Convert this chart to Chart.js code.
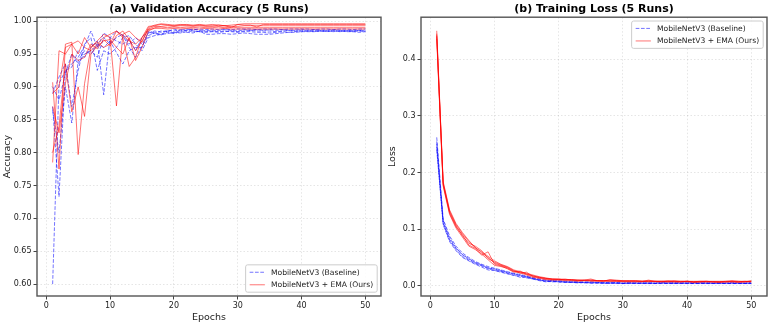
<!DOCTYPE html>
<html>
<head>
<meta charset="utf-8">
<script src="https://cdn.jsdelivr.net/npm/chart.js@4.4.1/dist/chart.umd.min.js"></script>
<style>
  html, body { margin: 0; padding: 0; background: #fff; }
  #wrap { position: relative; width: 770px; height: 325px; }
  .panel { position: absolute; top: 0; width: 385px; height: 325px; }
</style>
</head>
<body>
<div id="wrap">
  <div class="panel" style="left:0"><canvas id="acc"></canvas></div>
  <div class="panel" style="left:385px"><canvas id="loss"></canvas></div>
</div>
<script>
"use strict";

const epochs = [1, 2, 3, 4, 5, 6, 7, 8, 9, 10, 11, 12, 13, 14, 15, 16, 17, 18, 19, 20,
  21, 22, 23, 24, 25, 26, 27, 28, 29, 30, 31, 32, 33, 34, 35, 36, 37, 38, 39, 40,
  41, 42, 43, 44, 45, 46, 47, 48, 49, 50];

const epochTicks = [0, 10, 20, 30, 40, 50],
  accTicks = [0.60, 0.65, 0.70, 0.75, 0.80, 0.85, 0.90, 0.95, 1.00],
  lossTicks = [0.0, 0.1, 0.2, 0.3, 0.4];

// validation accuracy, baseline runs
const accBase1 = [0.600, 0.905, 0.925, 0.935, 0.945, 0.962, 0.985, 0.960, 0.982, 0.975,
  0.970, 0.965, 0.972, 0.955, 0.975, 0.985, 0.982, 0.980, 0.985, 0.982,
  0.986, 0.988, 0.985, 0.984, 0.986, 0.985, 0.986, 0.987, 0.986, 0.985,
  0.987, 0.986, 0.987, 0.986, 0.987, 0.986, 0.987, 0.986, 0.986, 0.987,
  0.986, 0.987, 0.986, 0.986, 0.987, 0.986, 0.985, 0.986, 0.986, 0.986];
const accBase2 = [0.870, 0.733, 0.925, 0.930, 0.955, 0.945, 0.960, 0.970, 0.888, 0.975,
  0.985, 0.978, 0.960, 0.945, 0.962, 0.978, 0.982, 0.985, 0.984, 0.988,
  0.985, 0.986, 0.988, 0.986, 0.984, 0.985, 0.984, 0.985, 0.984, 0.983,
  0.984, 0.984, 0.983, 0.983, 0.982, 0.983, 0.984, 0.983, 0.984, 0.984,
  0.985, 0.984, 0.985, 0.985, 0.984, 0.985, 0.984, 0.984, 0.983, 0.984];
const accBase3 = [0.865, 0.800, 0.900, 0.845, 0.940, 0.955, 0.950, 0.965, 0.960, 0.970,
  0.952, 0.935, 0.955, 0.960, 0.960, 0.983, 0.981, 0.979, 0.983, 0.981,
  0.984, 0.983, 0.982, 0.985, 0.980, 0.980, 0.981, 0.981, 0.980, 0.981,
  0.982, 0.981, 0.980, 0.980, 0.980, 0.981, 0.982, 0.983, 0.983, 0.984,
  0.984, 0.984, 0.985, 0.984, 0.985, 0.984, 0.985, 0.984, 0.985, 0.984];
const accBase4 = [0.890, 0.915, 0.935, 0.870, 0.925, 0.965, 0.975, 0.925, 0.955, 0.950,
  0.960, 0.975, 0.978, 0.965, 0.955, 0.975, 0.978, 0.980, 0.981, 0.983,
  0.982, 0.984, 0.985, 0.984, 0.983, 0.984, 0.983, 0.984, 0.985, 0.984,
  0.985, 0.986, 0.985, 0.985, 0.985, 0.984, 0.985, 0.986, 0.985, 0.986,
  0.985, 0.986, 0.985, 0.985, 0.986, 0.985, 0.986, 0.985, 0.986, 0.985];
const accBase5 = [0.900, 0.880, 0.920, 0.950, 0.935, 0.950, 0.955, 0.945, 0.975, 0.965,
  0.975, 0.980, 0.965, 0.975, 0.965, 0.982, 0.985, 0.983, 0.986, 0.985,
  0.987, 0.986, 0.987, 0.988, 0.987, 0.988, 0.987, 0.988, 0.987, 0.988,
  0.988, 0.988, 0.987, 0.988, 0.988, 0.988, 0.987, 0.988, 0.988, 0.988,
  0.988, 0.987, 0.988, 0.988, 0.987, 0.988, 0.988, 0.987, 0.988, 0.988];

// validation accuracy, EMA runs
const accEma1 = [0.785, 0.955, 0.950, 0.965, 0.970, 0.960, 0.955, 0.965, 0.975, 0.980,
  0.985, 0.978, 0.970, 0.965, 0.975, 0.992, 0.993, 0.995, 0.994, 0.993,
  0.994, 0.995, 0.994, 0.995, 0.994, 0.995, 0.994, 0.993, 0.994, 0.995,
  0.996, 0.996, 0.996, 0.996, 0.996, 0.996, 0.996, 0.996, 0.996, 0.996,
  0.996, 0.996, 0.996, 0.996, 0.996, 0.996, 0.996, 0.996, 0.996, 0.996];
const accEma2 = [0.907, 0.775, 0.965, 0.968, 0.797, 0.905, 0.960, 0.970, 0.980, 0.975,
  0.871, 0.980, 0.985, 0.975, 0.968, 0.990, 0.994, 0.996, 0.995, 0.994,
  0.995, 0.994, 0.993, 0.994, 0.993, 0.992, 0.994, 0.993, 0.990, 0.995,
  0.994, 0.994, 0.991, 0.995, 0.995, 0.995, 0.995, 0.995, 0.995, 0.995,
  0.995, 0.995, 0.995, 0.995, 0.995, 0.995, 0.995, 0.995, 0.995, 0.995];
const accEma3 = [0.800, 0.840, 0.935, 0.862, 0.900, 0.855, 0.950, 0.962, 0.970, 0.972,
  0.960, 0.950, 0.975, 0.940, 0.960, 0.985, 0.990, 0.992, 0.993, 0.992,
  0.993, 0.993, 0.992, 0.993, 0.992, 0.993, 0.992, 0.993, 0.992, 0.992,
  0.993, 0.993, 0.993, 0.993, 0.993, 0.993, 0.993, 0.993, 0.993, 0.993,
  0.993, 0.993, 0.993, 0.993, 0.993, 0.993, 0.993, 0.993, 0.993, 0.993];
const accEma4 = [0.890, 0.900, 0.960, 0.965, 0.950, 0.975, 0.960, 0.968, 0.960, 0.965,
  0.985, 0.975, 0.931, 0.945, 0.975, 0.988, 0.992, 0.991, 0.990, 0.991,
  0.990, 0.991, 0.990, 0.991, 0.990, 0.990, 0.991, 0.990, 0.991, 0.990,
  0.990, 0.990, 0.990, 0.990, 0.990, 0.990, 0.990, 0.990, 0.990, 0.990,
  0.990, 0.990, 0.990, 0.990, 0.990, 0.990, 0.990, 0.990, 0.990, 0.990];
const accEma5 = [0.870, 0.830, 0.905, 0.950, 0.940, 0.945, 0.965, 0.958, 0.972, 0.962,
  0.978, 0.985, 0.972, 0.955, 0.970, 0.987, 0.989, 0.989, 0.988, 0.989,
  0.988, 0.989, 0.988, 0.988, 0.989, 0.988, 0.988, 0.989, 0.988, 0.988,
  0.988, 0.988, 0.988, 0.988, 0.988, 0.988, 0.988, 0.988, 0.988, 0.988,
  0.988, 0.988, 0.988, 0.988, 0.988, 0.988, 0.988, 0.988, 0.988, 0.988];

// training loss, baseline runs
const lossBase1 = [0.262, 0.118, 0.088, 0.070, 0.058, 0.050, 0.043, 0.038, 0.034, 0.031,
  0.028, 0.025, 0.022, 0.020, 0.017, 0.014, 0.012, 0.010, 0.009, 0.009,
  0.008, 0.008, 0.007, 0.007, 0.007, 0.006, 0.006, 0.006, 0.006, 0.005,
  0.006, 0.005, 0.005, 0.006, 0.005, 0.005, 0.005, 0.006, 0.005, 0.005,
  0.005, 0.005, 0.006, 0.005, 0.005, 0.005, 0.005, 0.005, 0.005, 0.006];
const lossBase2 = [0.250, 0.112, 0.082, 0.066, 0.055, 0.047, 0.041, 0.036, 0.032, 0.029,
  0.026, 0.023, 0.021, 0.018, 0.016, 0.013, 0.011, 0.008, 0.008, 0.007,
  0.007, 0.006, 0.006, 0.006, 0.005, 0.005, 0.005, 0.005, 0.005, 0.004,
  0.005, 0.004, 0.005, 0.004, 0.004, 0.005, 0.004, 0.004, 0.004, 0.005,
  0.004, 0.004, 0.004, 0.004, 0.005, 0.004, 0.004, 0.004, 0.004, 0.004];
const lossBase3 = [0.245, 0.108, 0.078, 0.062, 0.050, 0.044, 0.038, 0.033, 0.028, 0.027,
  0.024, 0.021, 0.019, 0.015, 0.015, 0.012, 0.009, 0.007, 0.008, 0.007,
  0.006, 0.006, 0.005, 0.006, 0.005, 0.005, 0.005, 0.004, 0.005, 0.004,
  0.004, 0.005, 0.004, 0.004, 0.004, 0.004, 0.004, 0.004, 0.005, 0.004,
  0.004, 0.004, 0.004, 0.004, 0.004, 0.004, 0.004, 0.004, 0.004, 0.004];
const lossBase4 = [0.255, 0.115, 0.085, 0.067, 0.055, 0.048, 0.041, 0.037, 0.031, 0.030,
  0.027, 0.024, 0.021, 0.019, 0.016, 0.013, 0.010, 0.009, 0.009, 0.008,
  0.007, 0.007, 0.006, 0.006, 0.006, 0.006, 0.005, 0.005, 0.005, 0.005,
  0.005, 0.005, 0.005, 0.005, 0.005, 0.006, 0.005, 0.005, 0.005, 0.005,
  0.006, 0.005, 0.005, 0.005, 0.005, 0.005, 0.006, 0.005, 0.005, 0.005];
const lossBase5 = [0.240, 0.110, 0.080, 0.064, 0.052, 0.045, 0.039, 0.035, 0.030, 0.027,
  0.025, 0.022, 0.018, 0.017, 0.014, 0.012, 0.010, 0.008, 0.007, 0.007,
  0.006, 0.006, 0.006, 0.005, 0.005, 0.005, 0.004, 0.005, 0.004, 0.004,
  0.004, 0.004, 0.004, 0.004, 0.004, 0.004, 0.005, 0.004, 0.004, 0.004,
  0.004, 0.005, 0.004, 0.004, 0.004, 0.004, 0.004, 0.004, 0.004, 0.004];

// training loss, EMA runs
const lossEma1 = [0.450, 0.182, 0.132, 0.108, 0.092, 0.078, 0.068, 0.058, 0.050, 0.040,
  0.036, 0.032, 0.026, 0.024, 0.021, 0.017, 0.015, 0.013, 0.012, 0.011,
  0.011, 0.010, 0.010, 0.010, 0.009, 0.009, 0.009, 0.009, 0.008, 0.008,
  0.008, 0.008, 0.008, 0.008, 0.008, 0.007, 0.008, 0.007, 0.007, 0.008,
  0.007, 0.007, 0.007, 0.007, 0.007, 0.007, 0.007, 0.007, 0.007, 0.008];
const lossEma2 = [0.436, 0.178, 0.128, 0.104, 0.090, 0.072, 0.066, 0.054, 0.060, 0.038,
  0.035, 0.030, 0.024, 0.026, 0.020, 0.018, 0.014, 0.012, 0.011, 0.012,
  0.010, 0.011, 0.009, 0.010, 0.012, 0.009, 0.008, 0.011, 0.010, 0.009,
  0.008, 0.009, 0.008, 0.010, 0.008, 0.008, 0.009, 0.008, 0.008, 0.008,
  0.007, 0.008, 0.008, 0.007, 0.007, 0.008, 0.009, 0.008, 0.007, 0.009];
const lossEma3 = [0.445, 0.180, 0.130, 0.106, 0.088, 0.075, 0.070, 0.062, 0.048, 0.042,
  0.037, 0.033, 0.027, 0.022, 0.024, 0.016, 0.015, 0.013, 0.012, 0.011,
  0.012, 0.010, 0.010, 0.009, 0.010, 0.009, 0.009, 0.008, 0.009, 0.008,
  0.009, 0.008, 0.008, 0.007, 0.008, 0.008, 0.007, 0.008, 0.007, 0.008,
  0.007, 0.007, 0.008, 0.007, 0.007, 0.007, 0.008, 0.007, 0.008, 0.007];
const lossEma4 = [0.440, 0.176, 0.126, 0.102, 0.086, 0.070, 0.064, 0.056, 0.046, 0.036,
  0.034, 0.031, 0.025, 0.023, 0.019, 0.015, 0.013, 0.011, 0.010, 0.010,
  0.009, 0.009, 0.008, 0.009, 0.008, 0.008, 0.008, 0.008, 0.008, 0.007,
  0.007, 0.007, 0.007, 0.008, 0.007, 0.007, 0.007, 0.007, 0.007, 0.007,
  0.006, 0.007, 0.007, 0.007, 0.006, 0.007, 0.007, 0.006, 0.007, 0.007];
const lossEma5 = [0.442, 0.184, 0.134, 0.110, 0.094, 0.080, 0.067, 0.060, 0.052, 0.044,
  0.038, 0.034, 0.028, 0.025, 0.022, 0.019, 0.016, 0.014, 0.012, 0.012,
  0.011, 0.011, 0.010, 0.010, 0.010, 0.009, 0.009, 0.010, 0.009, 0.009,
  0.009, 0.009, 0.008, 0.009, 0.008, 0.008, 0.008, 0.009, 0.008, 0.008,
  0.008, 0.008, 0.008, 0.008, 0.008, 0.008, 0.008, 0.008, 0.008, 0.008];

const baseLabel = "MobileNetV3 (Baseline)",
  emaLabel = "MobileNetV3 + EMA (Ours)",
  blue = "rgba(0, 0, 255, 0.55)",
  red = "rgba(255, 0, 0, 0.55)";

Chart.defaults.font.family = "'DejaVu Sans', sans-serif";
Chart.defaults.color = "#222";

function makeSets(baseRuns, emaRuns) {
  const sets = [];
  baseRuns.forEach((run, i) => sets.push({
    label: baseLabel,
    legend: i === 0,
    data: epochs.map((e, k) => ({ x: e, y: run[k] })),
    borderColor: blue,
    borderWidth: 1,
    borderDash: [3.7, 1.6],
    pointRadius: 0,
    order: 2,
  }));
  emaRuns.forEach((run, i) => sets.push({
    label: emaLabel,
    legend: i === 0,
    data: epochs.map((e, k) => ({ x: e, y: run[k] })),
    borderColor: red,
    borderWidth: 1,
    pointRadius: 0,
    order: 1,
  }));
  return sets;
}

// axes frame + matplotlib style legend box
const frameLegend = {
  id: "frameLegend",
  afterDraw(chart, args, opts) {
    const { ctx, chartArea: a } = chart;
    ctx.save();
    ctx.strokeStyle = "#555";
    ctx.lineWidth = 1.4;
    ctx.strokeRect(a.left, a.top, a.right - a.left, a.bottom - a.top);

    const fs = 7.6;
    ctx.font = `${fs}px 'DejaVu Sans'`;
    const items = chart.data.datasets.filter(d => d.legend);
    const pad = 0.4 * fs, handle = 2 * fs, gap = 0.8 * fs, rowH = fs * 1.15, spacing = 0.5 * fs;
    const textW = Math.max(...items.map(d => ctx.measureText(d.label).width));
    const w = pad * 2 + handle + gap + textW + 2;
    const h = pad * 2 + rowH * items.length + spacing * (items.length - 1);
    const m = 0.5 * fs;
    const x = a.right - m - w;
    const y = opts.where === "upper" ? a.top + m : a.bottom - m - h;

    ctx.fillStyle = "rgba(255,255,255,0.85)";
    ctx.strokeStyle = "#ccc";
    ctx.lineWidth = 1;
    ctx.beginPath();
    ctx.roundRect(x, y, w, h, 2);
    ctx.fill();
    ctx.stroke();

    items.forEach((d, i) => {
      const cy = y + pad + rowH / 2 + i * (rowH + spacing);
      ctx.strokeStyle = d.borderColor;
      ctx.lineWidth = 1;
      ctx.setLineDash(d.borderDash || []);
      ctx.beginPath();
      ctx.moveTo(x + pad + 1, cy);
      ctx.lineTo(x + pad + 1 + handle, cy);
      ctx.stroke();
      ctx.setLineDash([]);
      ctx.fillStyle = "#222";
      ctx.textBaseline = "middle";
      ctx.fillText(d.label, x + pad + 1 + handle + gap, cy + 0.5);
    });
    ctx.restore();
  },
};

const gridOpts = {
  color: "rgba(0,0,0,0.10)",
  borderDash: [1.5, 2],
  tickColor: "#444",
  tickLength: 3.5,
  tickBorderDash: [],
};

function makeChart(id, opts) {
  return new Chart(document.getElementById(id), {
    type: "line",
    data: { datasets: makeSets(opts.base, opts.ema) },
    plugins: [frameLegend],
    options: {
      responsive: true,
      maintainAspectRatio: false,
      animation: false,
      devicePixelRatio: 1,
      layout: { padding: { left: 0, right: opts.padRight, top: 0, bottom: 0 } },
      plugins: {
        legend: { display: false },
        tooltip: { enabled: false },
        title: {
          display: true,
          text: opts.title,
          fullSize: false,
          color: "#000",
          font: { size: 11, weight: "bold" },
          padding: { top: 3, bottom: 1 },
        },
        frameLegend: { where: opts.legendWhere },
      },
      scales: {
        x: {
          type: "linear",
          min: -1.45,
          max: 52.45,
          afterBuildTicks: s => { s.ticks = epochTicks.map(v => ({ value: v })); },
          afterFit: s => { s.height = 29; },
          ticks: { font: { size: 8 }, padding: 2, maxRotation: 0, callback: v => String(v) },
          grid: gridOpts,
          border: { display: false, dash: [1.5, 2] },
          title: { display: true, text: "Epochs", font: { size: 9.5 }, padding: { top: 0, bottom: 2 } },
        },
        y: {
          min: opts.yMin,
          max: opts.yMax,
          afterBuildTicks: s => { s.ticks = opts.yTicks.map(v => ({ value: v })); },
          afterFit: s => { s.width = opts.yWidth; },
          ticks: { font: { size: 8 }, padding: 2, callback: v => v.toFixed(opts.decimals) },
          grid: gridOpts,
          border: { display: false, dash: [1.5, 2] },
          title: { display: true, text: opts.yTitle, font: { size: 9.5 }, padding: { top: 2, bottom: 0 } },
        },
      },
    },
  });
}

makeChart("acc", {
  base: [accBase1, accBase2, accBase3, accBase4, accBase5],
  ema: [accEma1, accEma2, accEma3, accEma4, accEma5],
  title: "(a) Validation Accuracy (5 Runs)",
  yTitle: "Accuracy",
  yMin: 0.5818,
  yMax: 1.006,
  yTicks: accTicks,
  decimals: 2,
  yWidth: 37,
  padRight: 4,
  legendWhere: "lower",
});

makeChart("loss", {
  base: [lossBase1, lossBase2, lossBase3, lossBase4, lossBase5],
  ema: [lossEma1, lossEma2, lossEma3, lossEma4, lossEma5],
  title: "(b) Training Loss (5 Runs)",
  yTitle: "Loss",
  yMin: -0.018,
  yMax: 0.474,
  yTicks: lossTicks,
  decimals: 1,
  yWidth: 36,
  padRight: 3,
  legendWhere: "upper",
});
</script>
</body>
</html>
